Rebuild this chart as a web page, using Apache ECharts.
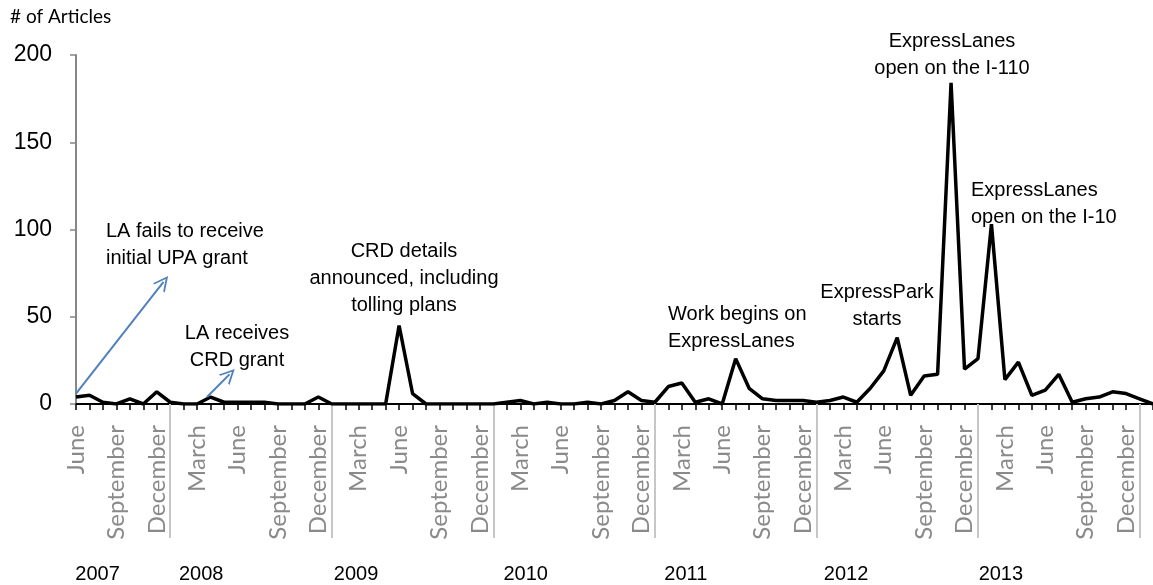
<!DOCTYPE html>
<html>
<head>
<meta charset="utf-8">
<title># of Articles</title>
<script src="https://cdn.jsdelivr.net/npm/echarts@6/dist/echarts.min.js"></script>
<style>
html,body{margin:0;padding:0;background:#fff;}
#chart{width:1153px;height:585px;}
</style>
</head>
<body>
<div id="chart"></div>
<script>
// monthly article counts, June 2007 .. February 2014
const monthNames = ['January','February','March','April','May','June','July','August','September','October','November','December'];
const firstMonth = 5, firstYear = 2007;
const articles = [
  4, 5, 1, 0, 3, 0, 7,                       // 2007 Jun-Dec
  1, 0, 0, 4, 1, 1, 1, 1, 0, 0, 0, 4,        // 2008
  0, 0, 0, 0, 0, 45, 6, 0, 0, 0, 0, 0,       // 2009
  0, 1, 2, 0, 1, 0, 0, 1, 0, 2, 7, 2,        // 2010
  1, 10, 12, 1, 3, 0, 26, 9, 3, 2, 2, 2,     // 2011
  1, 2, 4, 1, 9, 19, 38, 5, 16, 17, 184, 20, // 2012
  26, 103, 14, 24, 5, 8, 17, 1, 3, 4, 7, 6,  // 2013
  3, 0                                       // 2014 Jan-Feb
];
const categories = articles.map((_, i) => {
  const m = (firstMonth + i) % 12;
  return monthNames[m] + ' ' + (firstYear + Math.floor((firstMonth + i) / 12));
});
const years = ['2007', '2008', '2009', '2010', '2011', '2012', '2013'];
const yearLabelAt = [1.6, 9.3, 20.8, 33.4, 45.3, 57.2, 68.7];
const yTicks = [0, 50, 100, 150, 200];

// label every 3rd month, grey separators at each January
const monthLabelIdx = categories.map((c, i) => i).filter(i => i % 3 === 0);
const januaryIdx = categories.map((c, i) => i).filter(i => categories[i].startsWith('January'));

const notes = [
  {text: 'LA fails to receive\ninitial UPA grant', x: 106, y: 218, align: 'left'},
  {text: 'LA receives\nCRD grant', x: 237, y: 320, align: 'center'},
  {text: 'CRD details\nannounced, including\ntolling plans', x: 404, y: 238, align: 'center'},
  {text: 'Work begins on\nExpressLanes', x: 668, y: 301, align: 'left'},
  {text: 'ExpressPark\nstarts', x: 877, y: 279, align: 'center'},
  {text: 'ExpressLanes\nopen on the I-110', x: 952, y: 28, align: 'center'},
  {text: 'ExpressLanes\nopen on the I-10', x: 971, y: 177, align: 'left'}
];
// arrows in data space: [month index, articles]
const arrows = [
  [[0, 6], [6.5, 70]],
  [[9.73, 4], [11.4, 17]]
];

const chart = echarts.init(document.getElementById('chart'));
const arial = '"Liberation Sans", Arial, sans-serif';
const arrowHead = 'path://M0,12 L6,0 L12,12 L10.4,12 L6,3.2 L1.6,12 Z';

chart.setOption({
  animation: false,
  grid: {left: 76, right: 0, top: 55, bottom: 181, containLabel: false, outerBoundsMode: 'none'},
  xAxis: [
    {
      type: 'value', min: 0, max: categories.length - 1, interval: 1,
      axisLine: {show: true, lineStyle: {color: '#000', width: 2}},
      axisTick: {show: true, length: 6, lineStyle: {color: '#000', width: 1.5}},
      axisLabel: {
        show: true, rotate: 90, margin: 21,
        customValues: monthLabelIdx,
        formatter: v => categories[v].split(' ')[0],
        color: '#8a8a8a', fontFamily: 'Lato, "Open Sans", sans-serif', fontSize: 24
      },
      splitLine: {show: false}
    },
    {
      type: 'value', min: 0, max: categories.length - 1, position: 'bottom',
      axisLine: {show: false},
      axisTick: {show: true, customValues: januaryIdx, length: 134, lineStyle: {color: '#c6c6c6', width: 2}},
      axisLabel: {show: false},
      splitLine: {show: false}
    },
    {
      type: 'value', min: 0, max: categories.length - 1, position: 'bottom', offset: 150,
      axisLine: {show: false},
      axisTick: {show: false},
      axisLabel: {
        show: true, margin: 10,
        customValues: yearLabelAt,
        formatter: v => years[yearLabelAt.indexOf(v)],
        color: '#000', fontFamily: arial, fontSize: 20
      },
      splitLine: {show: false}
    }
  ],
  yAxis: {
    type: 'value', min: yTicks[0], max: yTicks[yTicks.length - 1], interval: 50,
    axisLine: {show: true, lineStyle: {color: '#878787', width: 2}},
    axisTick: {show: true, length: 6, lineStyle: {color: '#878787', width: 1.5}},
    axisLabel: {color: '#000', fontFamily: arial, fontSize: 23, margin: 24},
    splitLine: {show: false}
  },
  series: [{
    type: 'line',
    data: articles.map((v, i) => [i, v]),
    symbol: 'none',
    lineStyle: {color: '#000', width: 3.5},
    emphasis: {disabled: true},
    markLine: {
      silent: true,
      symbol: ['none', arrowHead],
      symbolSize: [15, 15],
      lineStyle: {color: '#4f81bd', width: 2, type: 'solid'},
      label: {show: false},
      emphasis: {disabled: true},
      data: arrows.map(a => [{coord: a[0]}, {coord: a[1]}])
    }
  }],
  graphic: [
    {
      type: 'text', x: 10, y: 7,
      style: {text: '# of Articles', font: '19px Lato, "Open Sans", sans-serif', fill: '#000'}
    }
  ].concat(notes.map(n => ({
    type: 'text', x: n.x, y: n.y,
    style: {text: n.text, font: '20px ' + arial, fill: '#000', textAlign: n.align, textVerticalAlign: 'top', lineHeight: 27}
  })))
});
</script>
</body>
</html>
